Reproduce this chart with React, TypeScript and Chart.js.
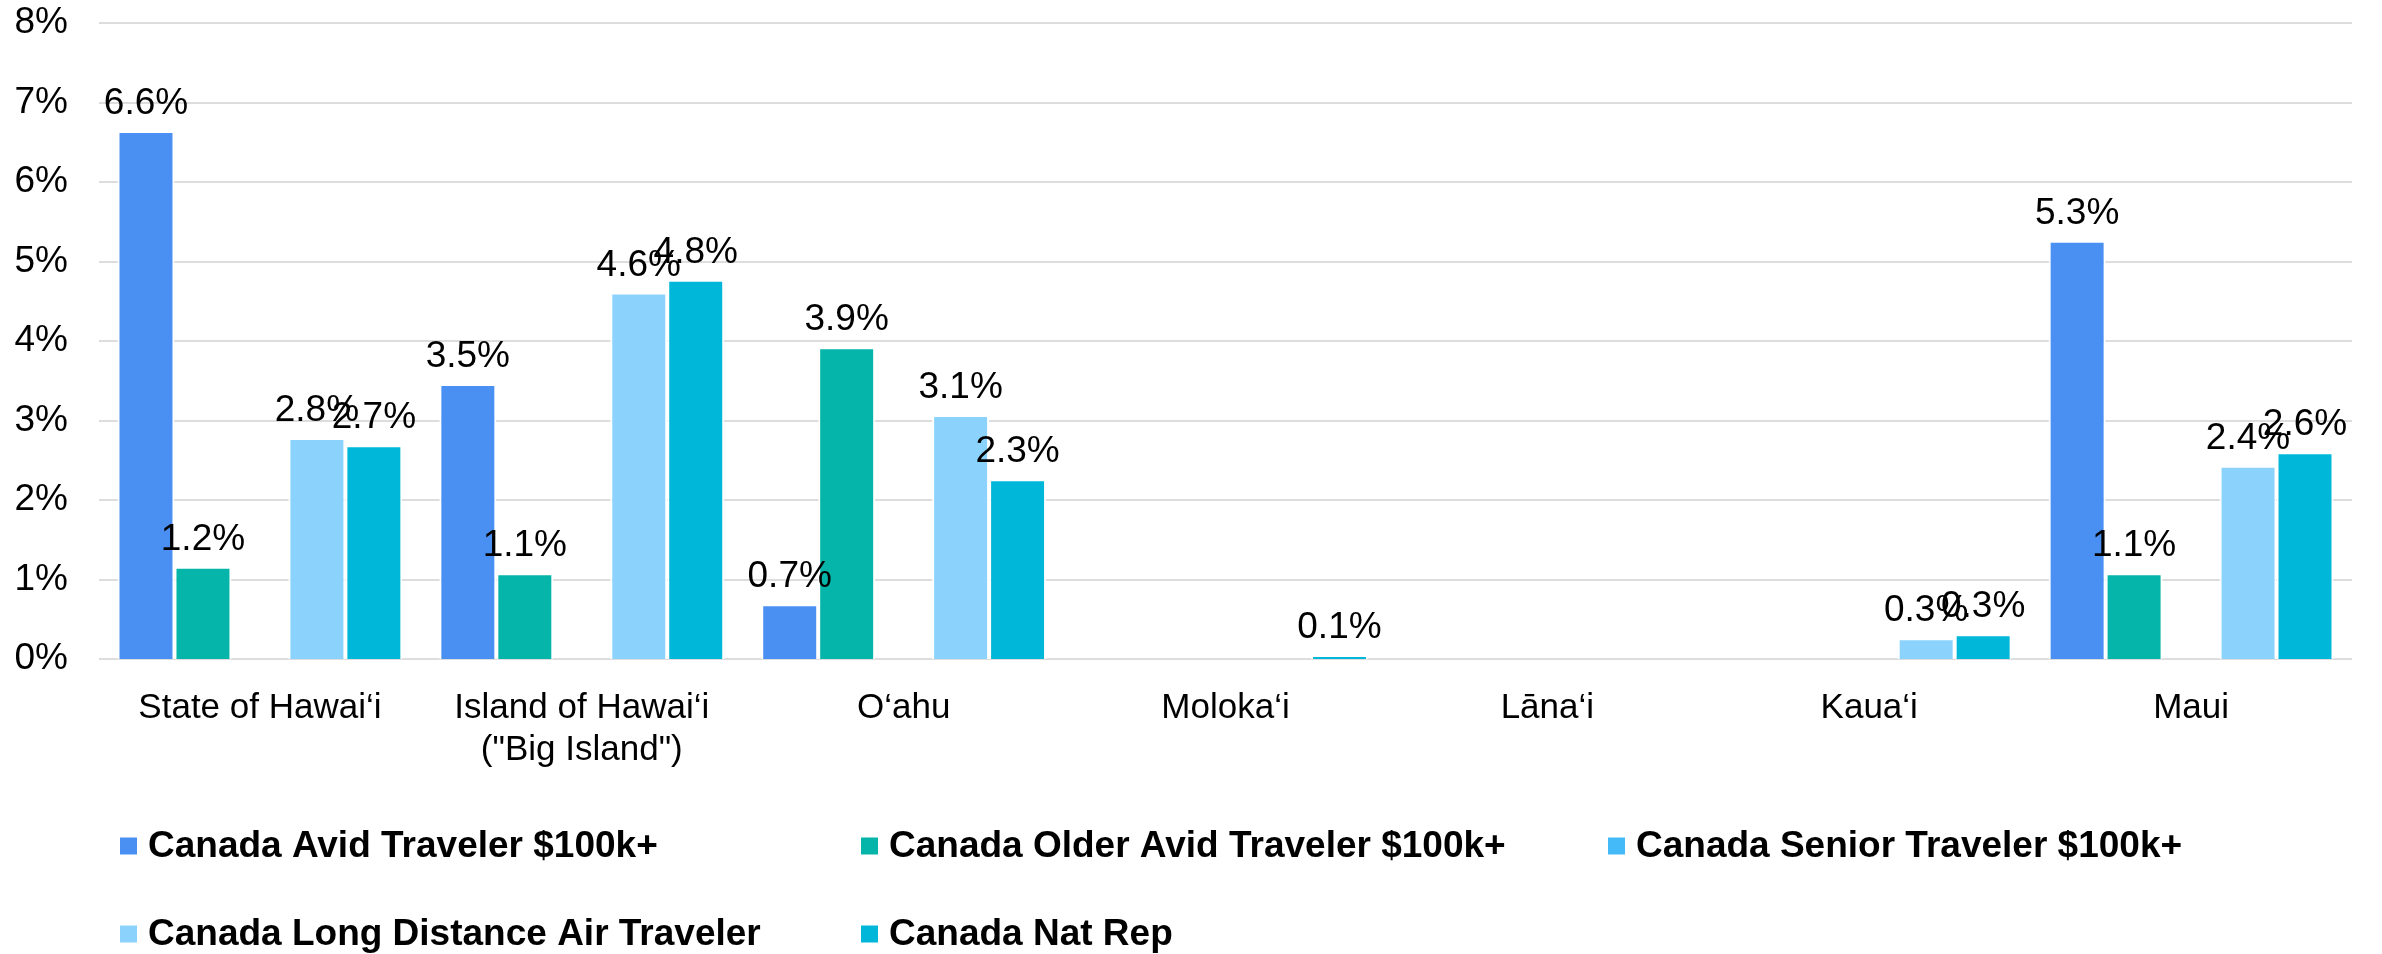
import React, { useEffect, useRef } from "react";
import { Chart, registerables } from "chart.js";

Chart.register(...registerables);

const categories: (string | string[])[] = [
  "State of Hawai‘i",
  ["Island of Hawai‘i", "(\"Big Island\")"],
  "O‘ahu",
  "Moloka‘i",
  "Lāna‘i",
  "Kaua‘i",
  "Maui",
];

const seriesNames = [
  "Canada Avid Traveler $100k+",
  "Canada Older Avid Traveler $100k+",
  "Canada Senior Traveler $100k+",
  "Canada Long Distance Air Traveler",
  "Canada Nat Rep",
];

const avidTraveler = [6.64, 3.46, 0.69, null, null, null, 5.26];
const olderAvidTraveler = [1.16, 1.08, 3.92, null, null, null, 1.08];
const seniorTraveler = [null, null, null, null, null, null, null];
const longDistanceAir = [2.78, 4.61, 3.07, null, null, 0.26, 2.43];
const natRep = [2.69, 4.77, 2.26, 0.05, null, 0.31, 2.6];

const seriesColors = ["#4A90F2", "#05B5AA", "#45BAF9", "#8BD3FD", "#00B7D9"];

const yTicks = [0, 1, 2, 3, 4, 5, 6, 7, 8];

const FONT = '"Liberation Sans", Arial, Helvetica, sans-serif';

const gridPlugin = {
  id: "manualGrid",
  beforeDatasetsDraw(chart: any) {
    const ctx = chart.ctx;
    const ys = chart.scales.y;
    const left = ys.right;
    const right = chart.width - 30;
    ctx.save();
    ctx.strokeStyle = "#DDDDDD";
    ctx.lineWidth = 2;
    yTicks.forEach((v) => {
      const y = Math.round(ys.getPixelForValue(v));
      ctx.beginPath();
      ctx.moveTo(left, y);
      ctx.lineTo(right, y);
      ctx.stroke();
    });
    ctx.restore();
  },
};

const dataLabelPlugin = {
  id: "dataLabels",
  afterDatasetsDraw(chart: any) {
    const ctx = chart.ctx;
    ctx.save();
    ctx.font = `37px ${FONT}`;
    ctx.fillStyle = "#000000";
    ctx.textAlign = "center";
    ctx.textBaseline = "alphabetic";
    chart.data.datasets.forEach((ds: any, di: number) => {
      const meta = chart.getDatasetMeta(di);
      meta.data.forEach((el: any, i: number) => {
        const v = ds.data[i];
        if (v === null || v === undefined) return;
        ctx.fillText(v.toFixed(1) + "%", el.x, el.y - 17);
      });
    });
    ctx.restore();
  },
};

const legendPlugin = {
  id: "gridLegend",
  afterDraw(chart: any) {
    const ctx = chart.ctx;
    const ys = chart.scales.y;
    const cols = [120, 861, 1608];
    const rows = [ys.bottom + 187, ys.bottom + 275];
    ctx.save();
    ctx.font = `bold 37px ${FONT}`;
    ctx.textAlign = "left";
    ctx.textBaseline = "middle";
    chart.data.datasets.forEach((ds: any, i: number) => {
      const x = cols[i % 3];
      const y = rows[Math.floor(i / 3)];
      ctx.fillStyle = ds.backgroundColor;
      ctx.fillRect(x, y - 8.5, 17, 17);
      ctx.fillStyle = "#000000";
      ctx.fillText(ds.label, x + 28, y + 1);
    });
    ctx.restore();
  },
};

export default function App() {
  const canvasRef = useRef<HTMLCanvasElement | null>(null);

  useEffect(() => {
    document.body.style.margin = "0";
    const canvas = canvasRef.current;
    if (!canvas) return;
    const values = [avidTraveler, olderAvidTraveler, seniorTraveler, longDistanceAir, natRep];
    const chart = new Chart(canvas, {
      type: "bar",
      data: {
        labels: categories,
        datasets: seriesNames.map((name, i) => ({
          label: name,
          data: values[i],
          backgroundColor: seriesColors[i],
          borderColor: "#FFFFFF",
          borderWidth: 2,
          borderSkipped: "start",
          categoryPercentage: 0.885,
          barPercentage: 1,
        })),
      },
      options: {
        responsive: false,
        animation: false,
        devicePixelRatio: 1,
        layout: { padding: { top: 23, right: 30, left: 0, bottom: 0 } },
        plugins: {
          legend: { display: false },
          tooltip: { enabled: false },
        },
        scales: {
          x: {
            grid: { display: false, drawTicks: false },
            border: { display: false },
            ticks: {
              color: "#000000",
              font: { family: FONT, size: 35, lineHeight: 1.2 },
              padding: 28,
              maxRotation: 0,
              autoSkip: false,
            },
            afterFit(axis: any) {
              axis.height = 295;
            },
          },
          y: {
            min: 0,
            max: 8,
            afterBuildTicks(axis: any) {
              axis.ticks = yTicks.map((v) => ({ value: v }));
            },
            grid: { display: false, drawTicks: false },
            border: { display: false },
            ticks: {
              color: "#000000",
              font: { family: FONT, size: 37 },
              padding: 31,
              callback: (v: any) => `${v}%`,
            },
            afterFit(axis: any) {
              axis.width = 99;
              axis.paddingTop = 0;
              axis.paddingBottom = 0;
            },
          },
        },
      },
      plugins: [gridPlugin, dataLabelPlugin, legendPlugin],
    });
    return () => chart.destroy();
  }, []);

  return (
    <div style={{ width: 2382, height: 954 }}>
      <canvas ref={canvasRef} width={2382} height={954} style={{ display: "block" }} />
    </div>
  );
}
